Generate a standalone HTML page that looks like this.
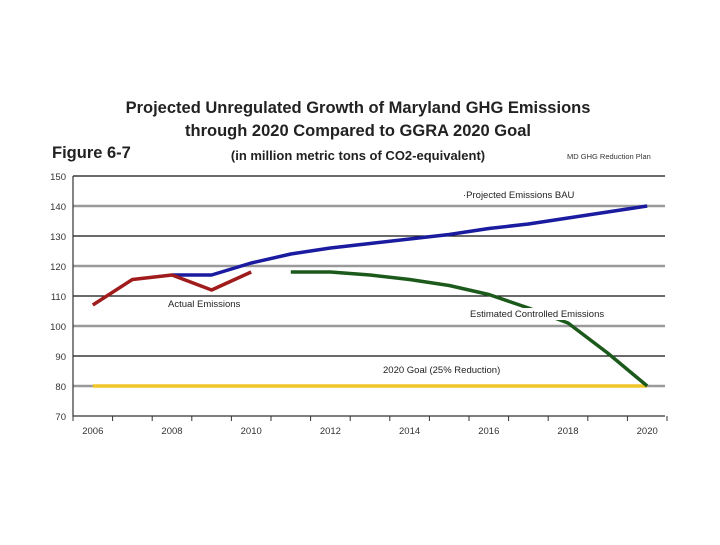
<!DOCTYPE html>
<html><head><meta charset="utf-8"><style>
body{margin:0;background:#fff;width:720px;height:540px;overflow:hidden;font-family:"Liberation Sans",sans-serif}
</style></head><body>
<svg width="720" height="540">
<text x="358" y="113" text-anchor="middle" font-size="16.5" font-weight="bold" fill="#222">Projected Unregulated Growth of Maryland GHG Emissions</text>
<text x="358" y="136" text-anchor="middle" font-size="16.5" font-weight="bold" fill="#222">through 2020 Compared to GGRA 2020 Goal</text>
<text x="52" y="158" font-size="16.5" font-weight="bold" fill="#222">Figure 6-7</text>
<text x="358" y="160" text-anchor="middle" font-size="13" font-weight="bold" fill="#222">(in million metric tons of CO2-equivalent)</text>
<text x="567" y="159" font-size="7.5" fill="#333">MD GHG Reduction Plan</text>
<g id="grid"></g><g id="axes"></g><g id="series"></g><g id="labels"></g>
</svg>
<script>
const yTicks=[70,80,90,100,110,120,130,140,150];
const xTickLabels=["2006","2008","2010","2012","2014","2016","2018","2020"];
const xTickYears=[2006,2008,2010,2012,2014,2016,2018,2020];
const actualYears=[2006,2007,2008,2009,2010];
const actualValues=[107,115.5,117,112,118];
const bauYears=[2008,2009,2010,2011,2012,2013,2014,2015,2016,2017,2018,2019,2020];
const bauValues=[117,117,121,124,126,127.5,129,130.5,132.5,134,136,138,140];
const ctrlYears=[2011,2012,2013,2014,2015,2016,2017,2018,2019,2020];
const ctrlValues=[118,118,117,115.5,113.5,110.5,106,101,91,80];
const goalYears=[2006,2020];
const goalValues=[80,80];
const NS="http://www.w3.org/2000/svg";
const X=yr=>92.8+(yr-2006)*39.6;
const Y=v=>416-(v-70)*3;
function mk(tag,attrs,parent){const e=document.createElementNS(NS,tag);for(const k in attrs)e.setAttribute(k,attrs[k]);document.getElementById(parent).appendChild(e);return e;}
yTicks.forEach((t,i)=>{
  if(t>70){const g=(t%20===0);
    const l=mk('line',{x1:73,x2:665,y1:Y(t),y2:Y(t),stroke:g?'#999':'#111','stroke-width':g?2.5:1.2},'grid');
    
    }
  const tx=mk('text',{x:66,y:Y(t)+4,'text-anchor':'end','font-size':9.5,fill:'#333'},'axes');
  tx.textContent=t;
  
  
});
const ax=mk('path',{d:'M73,176V416H665',fill:'none',stroke:'#333','stroke-width':1.2},'axes');


for(let y=2005.5;y<=2020.6;y+=1){const tk=mk('line',{x1:X(y),x2:X(y),y1:416,y2:421,stroke:'#333'},'axes');
 
 }
xTickLabels.forEach((s,i)=>{const t=mk('text',{x:X(xTickYears[i]),y:434,'text-anchor':'middle','font-size':9.5,fill:'#333'},'axes');t.textContent=s;
 
 });
function line(xs,vs,col,w,name){const p=mk('polyline',{points:xs.map((x,i)=>X(x)+','+Y(vs[i])).join(' '),fill:'none',stroke:col,'stroke-width':w,'stroke-linejoin':'round'},'series');
 
 }
line(goalYears,goalValues,'#f2c62a',3.5,'goal-line');
line(bauYears,bauValues,'#1b1ba0',3.5,'bau-line');
line(actualYears,actualValues,'#a01c1c',3.5,'actual-line');
line(ctrlYears,ctrlValues,'#1c5a1c',3.5,'controlled-line');
function lab(x,y,s,name,bg){if(bg){const r=mk('rect',{x:x-2,y:y-9,width:bg,height:12,fill:'#fff'},'labels');
 
 }
 const t=mk('text',{x:x,y:y,'font-size':9.5,fill:'#222'},'labels');t.textContent=s;
 
 }
lab(463,198,'·Projected Emissions BAU','bau-label');
lab(168,307,'Actual Emissions','actual-label');
lab(470,317,'Estimated Controlled Emissions','controlled-label',158);
lab(383,373,'2020 Goal (25% Reduction)','goal-label');
</script>
</body></html>
